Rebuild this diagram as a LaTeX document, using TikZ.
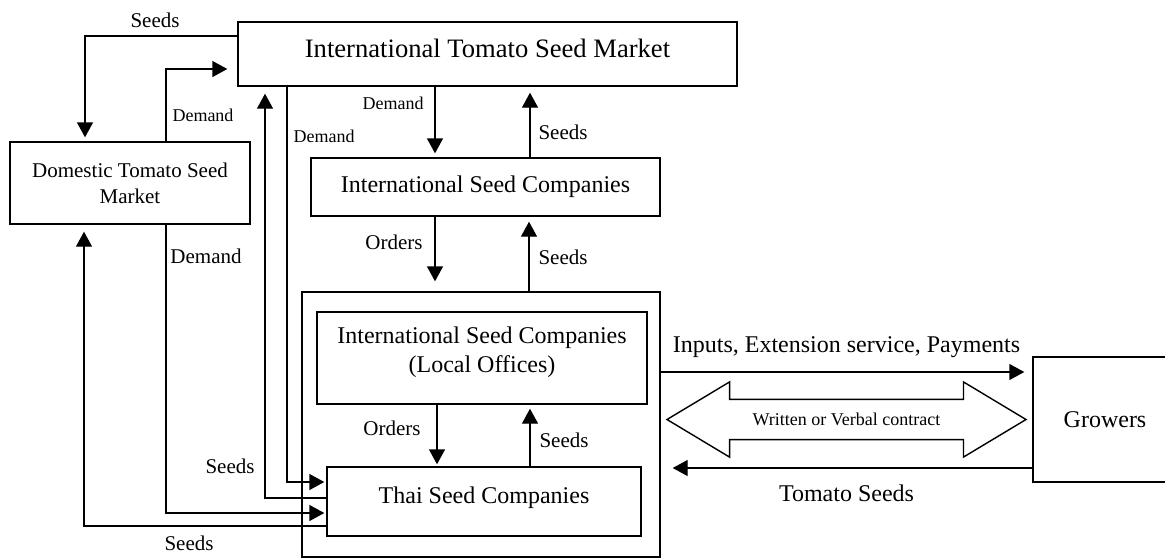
\documentclass[tikz,border=0pt]{standalone}
\usepackage{fontspec}
\setmainfont{Liberation Serif}
\usetikzlibrary{arrows.meta,shapes.arrows}

\begin{document}
\begin{tikzpicture}[
  x=0.5pt, y=-0.5pt,
  font=\fontsize{12}{14.5}\selectfont,
  box/.style={draw, line width=0.7pt, inner sep=0pt, align=center},
  lbl/.style={font=\fontsize{10.5}{12.5}\selectfont, inner sep=0pt},
  sml/.style={font=\fontsize{9}{11}\selectfont, inner sep=0pt},
  arr/.style={-{Triangle[length=7.5pt,width=8pt]}, line width=0.7pt}
]
\useasboundingbox (0,0) rectangle (1165,558);

% boxes
\node[box, minimum width=249.5pt, minimum height=32pt, text depth=6pt,
  font=\fontsize{13.3}{16}\selectfont] (itsm) at (487.5,54) {International Tomato Seed Market};
\node[box, minimum width=120pt, minimum height=41pt,
  font=\fontsize{10.5}{13}\selectfont] (dtsm) at (130,183) {Domestic Tomato Seed\\Market};
\node[box, minimum width=174.5pt, minimum height=29pt] (isc) at (485.5,187) {International Seed Companies};
\node[box, minimum width=179pt, minimum height=132.5pt] (lbox) at (481,424.5) {};
\node[box, minimum width=165pt, minimum height=46pt] (isclo) at (482,358)
  {International Seed Companies\\(Local Offices)\\[-6pt]};
\node[box, minimum width=157pt, minimum height=34.5pt, text depth=6.6pt] (thai) at (484,501.5) {Thai Seed Companies};
\node[box, minimum width=72pt, minimum height=62.5pt] (growers) at (1105,419.5) {Growers};
\node[draw, line width=0.7pt, double arrow, double arrow head extend=8.75pt,
  double arrow tip angle=62, inner xsep=2pt, inner ysep=6.5pt, minimum height=179.5pt,
  font=\fontsize{9}{11}\selectfont] (contract) at (846.5,419.5) {Written or Verbal contract};

% left loop
\draw[arr, shorten >=2pt] ([yshift=9pt]itsm.west) -| ([xshift=-22.5pt]dtsm.north);
\draw[arr, shorten >=5pt] ([xshift=18pt]dtsm.north) |- ([yshift=-7.5pt]itsm.west);
\draw[arr, shorten >=3.5pt] ([yshift=1.75pt]thai.west) -| ([xshift=-111.25pt]itsm.south);
\draw[arr, shorten >=1pt] ([xshift=-100.25pt]itsm.south) |- ([yshift=9.75pt]thai.west);
\draw[arr, shorten >=1pt] ([xshift=18pt]dtsm.south) |- ([yshift=-5.75pt]thai.west);
\draw[arr, shorten >=3.5pt] ([yshift=-12.25pt]thai.west) -| ([xshift=-23pt]dtsm.south);

\node[lbl] (s1) at (155,20) {Seeds};
\node[sml] (d1) at (203,115) {Demand};
\node[sml] (d2) at (324,136) {Demand};
\node[lbl] (d3) at (206,256) {Demand};
\node[lbl] (s2) at (230,466) {Seeds};
\node[lbl] (s3) at (189,543) {Seeds};

% centre column
\draw[arr, shorten >=2pt] ([xshift=-25.25pt]isc.north |- itsm.south) -- ([xshift=-25.25pt]isc.north);
\draw[arr, shorten >=3pt] ([xshift=22.25pt]isc.north) -- ([xshift=22.25pt]isc.north |- itsm.south);
\draw[arr, shorten >=5pt] ([xshift=-25.25pt]isc.south) -- ([xshift=-25.25pt]isc.south |- lbox.north);
\draw[arr, shorten >=2.5pt] ([xshift=21.75pt]isc.south |- lbox.north) -- ([xshift=21.75pt]isc.south);
\draw[arr, shorten >=1pt] ([xshift=-22.5pt]isclo.south) -- ([xshift=-22.5pt]isclo.south |- thai.north);
\draw[arr, shorten >=2pt] ([xshift=24pt]isclo.south |- thai.north) -- ([xshift=24pt]isclo.south);

\node[sml] (d4) at (393,103) {Demand};
\node[lbl] (s4) at (563,132) {Seeds};
\node[lbl] (o1) at (394,242) {Orders};
\node[lbl] (s5) at (563,257) {Seeds};
\node[lbl] (o2) at (392,428) {Orders};
\node[lbl] (s6) at (564,440) {Seeds};

% growers
\draw[arr, shorten >=4pt] ([yshift=26.25pt]lbox.east) -- ([yshift=26.25pt]lbox.east -| growers.west)
  node[midway, above=3.5pt] (inp) {Inputs, Extension service, Payments};
\draw[arr, shorten >=6pt] ([yshift=-24.25pt]growers.west) -- ([yshift=-24.25pt]growers.west -| lbox.east)
  node[midway, below=4.5pt] (tom) {Tomato Seeds};
\end{tikzpicture}
\end{document}
